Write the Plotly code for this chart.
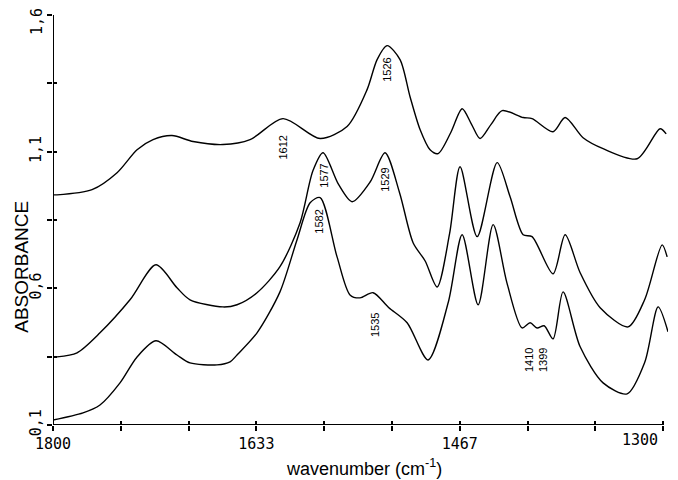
import plotly.graph_objects as go

# Spectrum 3 (top)
wn3 = [1800, 1796.7, 1768.0, 1747.5, 1731.1, 1718.0, 1702.5, 1685.2, 1660.7, 1638.5,
       1611.5, 1581.1, 1559.0, 1542.6, 1534.4, 1526.2, 1515.6, 1507.4, 1499.2, 1491.0,
       1484.4, 1474.0, 1464.7, 1457.0, 1450.0, 1441.0, 1431.9, 1414.7, 1407.4, 1390.2,
       1380.3, 1365.6, 1349.2, 1321.3, 1302.5, 1297.5]
ab3 = [0.942, 0.942, 0.961, 1.023, 1.107, 1.144, 1.159, 1.137, 1.126, 1.144,
       1.221, 1.148, 1.192, 1.327, 1.437, 1.488, 1.437, 1.301, 1.181, 1.107,
       1.093, 1.170, 1.257, 1.200, 1.148, 1.200, 1.250, 1.225, 1.221, 1.173,
       1.225, 1.151, 1.111, 1.074, 1.184, 1.165]

# Spectrum 2 (middle)
wn2 = [1800, 1796.7, 1780.3, 1761.5, 1736.9, 1715.6, 1698.4, 1687.7, 1660.7, 1649.2,
       1632.8, 1614.0, 1597.5, 1587.0, 1578.7, 1566.0, 1554.9, 1540.0, 1527.9, 1516.0,
       1504.9, 1495.0, 1485.2, 1475.0, 1466.4, 1452.4, 1436.0, 1425.4, 1414.7, 1407.4,
       1390.2, 1380.3, 1368.0, 1351.6, 1328.7, 1315.0, 1300.8, 1296.7]
ab2 = [0.349, 0.349, 0.364, 0.437, 0.558, 0.686, 0.602, 0.558, 0.532, 0.540,
       0.584, 0.679, 0.840, 1.030, 1.096, 0.980, 0.917, 0.990, 1.096, 0.950,
       0.767, 0.700, 0.605, 0.800, 1.045, 0.789, 1.060, 0.935, 0.796, 0.789,
       0.653, 0.796, 0.657, 0.529, 0.459, 0.560, 0.759, 0.715]

# Spectrum 1 (bottom)
wn1 = [1800, 1775.4, 1761.5, 1745.1, 1731.1, 1715.6, 1698.4, 1687.7, 1665.6, 1654.9,
       1649.2, 1632.8, 1614.0, 1600.0, 1589.3, 1581.1, 1567.2, 1556.6, 1548.4, 1537.7,
       1525.0, 1509.8, 1492.6, 1476.0, 1464.7, 1451.6, 1439.3, 1428.0, 1415.6, 1409.0,
       1403.3, 1397.5, 1390.2, 1382.0, 1368.0, 1349.2, 1329.5, 1315.0, 1304.1, 1296.0]
ab1 = [0.118, 0.144, 0.173, 0.254, 0.349, 0.408, 0.356, 0.327, 0.320, 0.331,
       0.356, 0.437, 0.587, 0.778, 0.913, 0.932, 0.715, 0.576, 0.565, 0.584,
       0.530, 0.474, 0.338, 0.550, 0.796, 0.540, 0.833, 0.620, 0.455, 0.474,
       0.455, 0.463, 0.415, 0.587, 0.386, 0.254, 0.214, 0.330, 0.532, 0.441]

# Peak labels (rotated)
peak_text = ["1612", "1526", "1577", "1529", "1582", "1535", "1410", "1399"]
peak_x = [1611.5, 1526.2, 1577.9, 1527.9, 1582.0, 1536.0, 1409.8, 1398.3]
peak_y = [1.115, 1.400, 1.012, 0.997, 0.844, 0.466, 0.338, 0.338]

# Curve labels
curve_text = ["3", "2", "1"]
curve_x = [1292, 1292, 1292]
curve_y = [1.151, 0.712, 0.411]

x_ticks_all = [round(1800 - i * 500 / 9, 4) for i in range(10)]
x_tick_text = ["1800", "", "", "1633", "", "", "1467", "", "", ""]
y_ticks_all = [0.1, 0.35, 0.6, 0.85, 1.1, 1.35, 1.6]
y_tick_text = ["0,1", "", "0,6", "", "1,1", "", ""]

fig = go.Figure()
line = dict(color="black", width=1.4, shape="spline", smoothing=0.8)
for wn, ab in [(wn3, ab3), (wn2, ab2), (wn1, ab1)]:
    fig.add_trace(go.Scatter(x=wn, y=ab, mode="lines", line=line, showlegend=False,
                             hoverinfo="skip"))

for t, x, y in zip(peak_text, peak_x, peak_y):
    fig.add_annotation(x=x, y=y, text=t, textangle=-90, showarrow=False,
                       font=dict(family="Arial, Liberation Sans", size=11, color="black"))
for t, x, y in zip(curve_text, curve_x, curve_y):
    fig.add_annotation(x=x, y=y, text=t, showarrow=False, xanchor="left",
                       font=dict(family="Arial, Liberation Sans", size=15, color="black"))

tickfont = dict(family="DejaVu Sans Mono", size=15, color="black")
# edge tick labels, nudged inside the page as in the original
fig.add_annotation(xref="paper", yref="paper", x=0.9865, y=-0.0366, yanchor="middle",
                   text="1300", showarrow=False, font=tickfont)
fig.add_annotation(xref="paper", yref="paper", x=-0.026, y=0.983, yanchor="middle",
                   xanchor="center", text="1,6", textangle=-90, showarrow=False,
                   font=tickfont)

# axis titles
fig.add_annotation(xref="paper", yref="paper", x=0.505, y=-0.104, yanchor="middle",
                   text="wavenumber (cm<sup>-1</sup>)", showarrow=False,
                   font=dict(family="Arial, Liberation Sans", size=18, color="black"))
fig.add_annotation(xref="paper", yref="paper", x=-0.051, y=0.385, xanchor="center",
                   yanchor="middle", text="ABSORBANCE", textangle=-90, showarrow=False,
                   font=dict(family="Arial, Liberation Sans", size=19, color="black"))

# axis lines
fig.add_shape(type="line", x0=1800, x1=1300, y0=0.1, y1=0.1, xref="x", yref="y",
              line=dict(color="black", width=2))
fig.add_shape(type="line", x0=1800, x1=1800, y0=0.1, y1=1.6, xref="x", yref="y",
              line=dict(color="black", width=2))

fig.update_layout(
    width=678, height=480,
    margin=dict(l=53, r=10, t=15, b=55, autoexpand=False),
    plot_bgcolor="white", paper_bgcolor="white",
    xaxis=dict(range=[1800, 1296], tickmode="array", tickvals=x_ticks_all,
               ticktext=x_tick_text, ticks="outside", ticklen=5, tickwidth=1.5,
               tickcolor="black", showgrid=False, zeroline=False, showline=False,
               tickfont=tickfont, automargin=False),
    yaxis=dict(range=[0.0999, 1.6001], tickmode="array", tickvals=y_ticks_all,
               ticktext=y_tick_text, ticks="outside", ticklen=5, tickwidth=1.5,
               tickcolor="black", showgrid=False, zeroline=False, showline=False,
               tickangle=-90, tickfont=tickfont, automargin=False),
    xaxis2=dict(overlaying="x", matches="x", tickmode="array",
                tickvals=x_ticks_all, ticks="inside", ticklen=4, tickwidth=1.5,
                tickcolor="black", showticklabels=False, showgrid=False,
                zeroline=False, side="bottom", anchor="y", automargin=False),
    yaxis2=dict(overlaying="y", matches="y", tickmode="array",
                tickvals=y_ticks_all, ticks="inside", ticklen=4, tickwidth=1.5,
                tickcolor="black", showticklabels=False, showgrid=False,
                zeroline=False, side="left", anchor="x", automargin=False),
)
fig.add_trace(go.Scatter(x=[1800], y=[0.1], xaxis="x2", yaxis="y2", mode="markers",
                         marker=dict(opacity=0), showlegend=False, hoverinfo="skip"))

fig.write_html("out.html")
